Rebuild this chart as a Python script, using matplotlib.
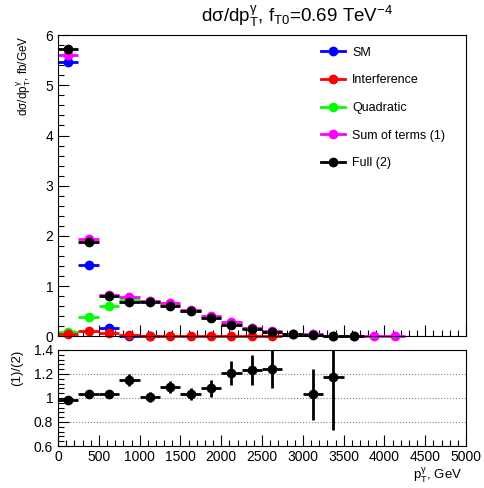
import numpy as np
import matplotlib
matplotlib.use("Agg")
import matplotlib.pyplot as plt
from matplotlib.ticker import MultipleLocator
from matplotlib.lines import Line2D

plt.rcParams['font.family'] = ['Liberation Sans', 'DejaVu Sans']
plt.rcParams['mathtext.fontset'] = 'custom'
plt.rcParams['mathtext.rm'] = 'Liberation Sans'
plt.rcParams['mathtext.it'] = 'Liberation Sans:italic'
plt.rcParams['mathtext.default'] = 'regular'

# bin centres of the photon pT histogram (GeV), bin width 250
pt_centers = [125, 375, 625, 875, 1125, 1375, 1625, 1875, 2125,
              2375, 2625, 2875, 3125, 3375, 3625, 3875, 4125]
bin_half = 125

sm = [5.47, 1.42, 0.17, 0.0, 0.0]
interference = [0.04, 0.10, 0.06, 0.02, 0.01, 0.0, 0.0, 0.0, 0.0, 0.0, 0.0]
quadratic = [0.08, 0.38, 0.60, 0.73, 0.70, 0.63, 0.51, 0.39, 0.27,
             0.16, 0.09, 0.05, 0.04, 0.01, 0.005]
sum_terms = [5.61, 1.93, 0.83, 0.79, 0.70, 0.67, 0.52, 0.40, 0.29,
             0.17, 0.10, 0.05, 0.04, 0.005, 0.005, 0.0, 0.0]
full = [5.73, 1.87, 0.81, 0.69, 0.69, 0.60, 0.50, 0.37, 0.23,
        0.14, 0.08, 0.04, 0.03, 0.0, 0.0]

ratio = [0.98, 1.03, 1.03, 1.15, 1.01, 1.09, 1.035, 1.08, 1.205,
         1.23, 1.24, np.nan, 1.03, 1.175]
ratio_err = [0.012, 0.015, 0.02, 0.05, 0.04, 0.05, 0.05, 0.07, 0.10,
             0.125, 0.155, np.nan, 0.215, 0.44]

series = [
    ("SM", sm, "#0000ff"),
    ("Quadratic", quadratic, "#00ff00"),
    ("Interference", interference, "#ff0000"),
    ("Sum of terms (1)", sum_terms, "#ff00ff"),
    ("Full (2)", full, "#000000"),
]
legend_order = ["SM", "Interference", "Quadratic", "Sum of terms (1)", "Full (2)"]
colors = {name: col for name, _, col in series}

fig = plt.figure(figsize=(4.84, 4.88), dpi=100)
ax1 = fig.add_axes([0.120, 0.311, 0.843, 0.617])
ax2 = fig.add_axes([0.120, 0.086, 0.843, 0.197])

for name, vals, col in series:
    x = pt_centers[:len(vals)]
    ax1.errorbar(x, vals, xerr=bin_half, fmt='o', color=col, ms=6,
                 elinewidth=2, capsize=0, clip_on=False)

ax1.set_xlim(0, 5000)
ax1.set_ylim(0, 6)
ax1.xaxis.set_major_locator(MultipleLocator(500))
ax1.xaxis.set_minor_locator(MultipleLocator(100))
ax1.yaxis.set_major_locator(MultipleLocator(1))
ax1.yaxis.set_minor_locator(MultipleLocator(0.2))
ax1.tick_params(axis='x', labelbottom=False)
fig.text(0.613, 0.966, r'd$\sigma$/dp$_{T}^{\gamma}$, f$_{T0}$=0.69 TeV$^{-4}$',
         fontsize=13.5, ha='center', va='center')
ax1.set_ylabel(r'd$\sigma$/dp$_{T}^{\gamma}$, fb/GeV', fontsize=8.5,
               loc='top', labelpad=9)

leg_handles = [Line2D([], [], color=colors[n], lw=2, marker='o', ms=6)
               for n in legend_order]
ax1.legend(leg_handles, legend_order,
           loc='upper left', bbox_to_anchor=(0.62, 0.995), frameon=False,
           fontsize=9, labelspacing=1.25, handlelength=1.9,
           handletextpad=0.6, borderaxespad=0.4)

ax2.errorbar(pt_centers[:len(ratio)], ratio, xerr=bin_half, yerr=ratio_err,
             fmt='o', color='black', ms=6, elinewidth=2, capsize=0)
ax2.set_xlim(0, 5000)
ax2.set_ylim(0.6, 1.4)
ax2.xaxis.set_major_locator(MultipleLocator(500))
ax2.xaxis.set_minor_locator(MultipleLocator(100))
ax2.yaxis.set_minor_locator(MultipleLocator(0.04))
ax2.set_yticks([0.6, 0.8, 1.0, 1.2, 1.4])
ax2.set_yticklabels(['0.6', '0.8', '1', '1.2', '1.4'])
for yv in [0.8, 1.0, 1.2]:
    ax2.axhline(yv, color='gray', ls=':', lw=0.8, zorder=0)
ax2.set_ylabel('(1)/(2)', fontsize=9.5, loc='top', labelpad=8)
fig.text(0.955, 0.017, r'p$_{T}^{\gamma}$, GeV', fontsize=9.5,
         ha='right', va='baseline')

for ax in (ax1, ax2):
    ax.tick_params(which='both', direction='in', top=False, right=False,
                   labelsize=10)
    ax.tick_params(which='major', length=8, width=0.8)
    ax.tick_params(which='minor', length=4, width=0.8)
    for sp in ax.spines.values():
        sp.set_linewidth(0.8)
ax2.tick_params(axis='x', pad=3)

fig.savefig("out.png", dpi=100)
